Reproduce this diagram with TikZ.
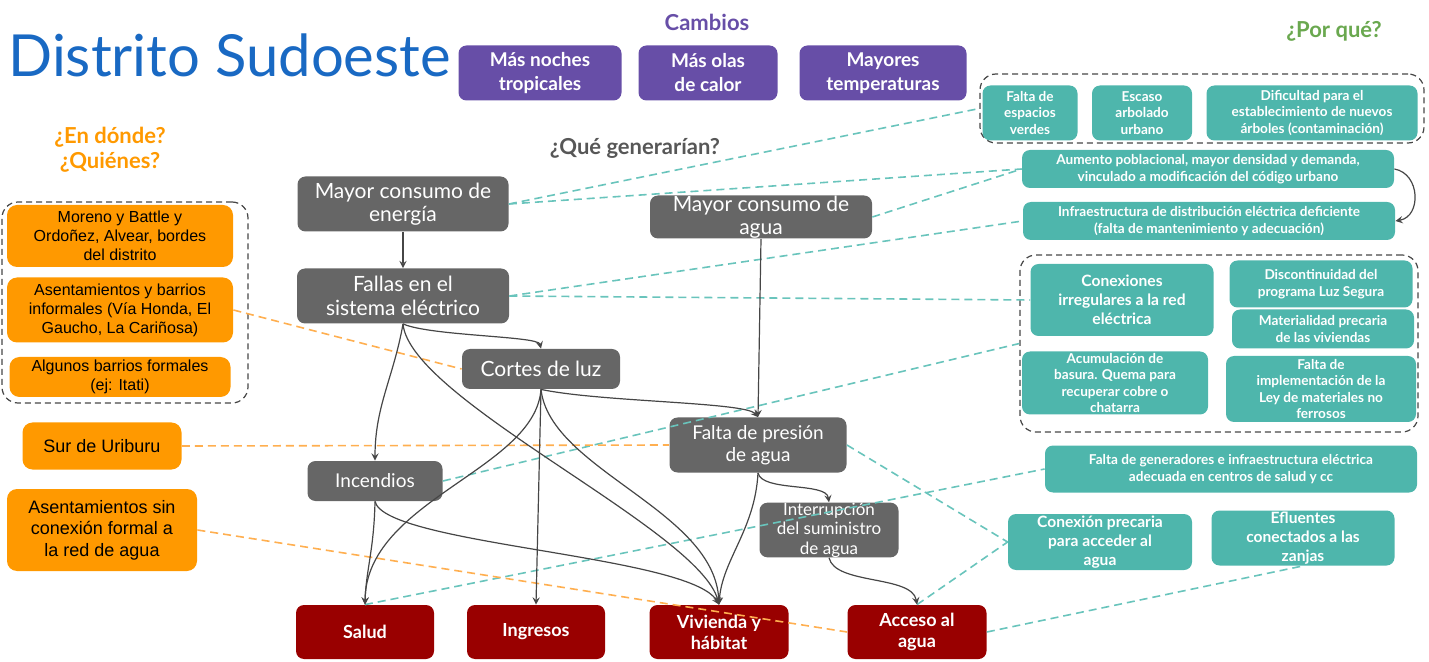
\documentclass[tikz,border=0pt]{standalone}
\usepackage{fontspec}
\setmainfont{Lato}
\newfontfamily\arialfont{Liberation Sans}
\usepackage{tikz}
\usetikzlibrary{shapes.geometric, arrows}
\definecolor{titleblue}{RGB}{25,105,195}
\definecolor{cambiopurple}{RGB}{103,78,167}
\definecolor{causeteal}{RGB}{78,182,172}
\definecolor{linkteal}{RGB}{105,196,188}
\definecolor{effectgrey}{RGB}{102,102,102}
\definecolor{impactred}{RGB}{153,0,0}
\definecolor{placeorange}{RGB}{255,153,0}
\definecolor{linkorange}{RGB}{255,175,80}
\definecolor{whygreen}{RGB}{106,168,79}
\definecolor{arrowgrey}{RGB}{70,70,70}
\tikzstyle{heading} = [inner sep=0pt, align=center, font=\bfseries\fontsize{11}{12.5}\selectfont]
\tikzstyle{cambio} = [rectangle, rounded corners=4pt, fill=cambiopurple, text=white, align=center, inner sep=0pt, font=\bfseries\fontsize{9.5}{12}\selectfont]
\tikzstyle{cause} = [rectangle, rounded corners=4pt, fill=causeteal, text=white, align=center, inner sep=0pt, font=\bfseries\fontsize{6.8}{8.3}\selectfont]
\tikzstyle{causebig} = [cause, font=\bfseries\fontsize{7.8}{9.6}\selectfont]
\tikzstyle{effect} = [rectangle, rounded corners=4pt, fill=effectgrey, text=white, align=center, inner sep=0pt, font=\fontsize{10.5}{11.8}\selectfont]
\tikzstyle{impact} = [rectangle, rounded corners=4pt, fill=impactred, text=white, align=center, inner sep=0pt, font=\bfseries\fontsize{9}{10.5}\selectfont]
\tikzstyle{place} = [rectangle, rounded corners=5pt, fill=placeorange, text=black, align=center, inner sep=0pt, font=\arialfont\fontsize{8}{9.5}\selectfont]
\tikzstyle{groupbox} = [rectangle, rounded corners=8pt, draw=arrowgrey, line width=0.6pt, dash pattern=on 3pt off 2pt]
\tikzstyle{arrow} = [arrowgrey, line width=0.6pt, ->, >=stealth]
\tikzstyle{tealdash} = [linkteal, line width=0.8pt, dash pattern=on 4pt off 2.5pt]
\tikzstyle{orangedash} = [linkorange, line width=0.8pt, dash pattern=on 4pt off 2.5pt]

\begin{document}
\begin{tikzpicture}[x=0.5pt, y=0.5pt]
    \useasboundingbox (0,0) rectangle (1429,-662);

    % titles
    \node (titulo) [anchor=west, inner sep=0pt, text=titleblue, font=\fontsize{29}{34}\selectfont] at (8,-55) {Distrito Sudoeste};
    \node (cambios) [heading, text=cambiopurple] at (707,-22) {Cambios};
    \node (quegen) [heading, text=effectgrey!85!black] at (635,-148) {¿Qué generarían?};
    \node (porque) [heading, text=whygreen] at (1334,-31) {¿Por qué?};
    \node (endonde) [heading, text=placeorange] at (110,-150) {¿En dónde?\\¿Quiénes?};

    % dashed groups
    \node (g1) [groupbox, minimum width=222pt, minimum height=34.5pt] at (1202,-108.5) {};
    \node (g2) [groupbox, minimum width=199pt, minimum height=88.5pt] at (1219,-343.5) {};
    \node (g3) [groupbox, minimum width=123pt, minimum height=100.5pt] at (125,-302.5) {};

    % cambios
    \node (cam1) [cambio, minimum width=81.5pt, minimum height=27.5pt] at (540,-73) {Más noches\\tropicales};
    \node (cam2) [cambio, minimum width=69.5pt, minimum height=27.5pt] at (708,-73) {Más olas\\de calor};
    \node (cam3) [cambio, minimum width=83.5pt, minimum height=27.5pt] at (883,-73) {Mayores\\temperaturas};

    % por que
    \node (verdes) [cause, minimum width=47.5pt, minimum height=27.5pt] at (1030,-113) {Falta de\\espacios\\verdes};
    \node (arbolado) [cause, minimum width=50pt, minimum height=27.5pt] at (1142,-113) {Escaso\\arbolado\\urbano};
    \node (arboles) [cause, minimum width=105.5pt, minimum height=27.5pt] at (1312,-113) {Dificultad para el\\establecimiento de nuevos\\árboles (contaminación)};
    \node (aumento) [cause, minimum width=186pt, minimum height=19pt] at (1208,-169) {Aumento poblacional, mayor densidad y demanda,\\vinculado a modificación del código urbano};
    \node (infra) [cause, minimum width=186pt, minimum height=19pt] at (1209,-221) {Infraestructura de distribución eléctrica deficiente\\(falta de mantenimiento y adecuación)};
    \node (conexiones) [causebig, minimum width=91.5pt, minimum height=36pt] at (1122,-300) {Conexiones\\irregulares a la red\\eléctrica};
    \node (luzsegura) [cause, minimum width=91.5pt, minimum height=23.5pt] at (1321,-284) {Discontinuidad del\\programa Luz Segura};
    \node (materialidad) [cause, minimum width=91pt, minimum height=19.5pt] at (1323,-329) {Materialidad precaria\\de las viviendas};
    \node (basura) [cause, minimum width=93pt, minimum height=31.5pt] at (1115,-383) {Acumulación de\\basura. Quema para\\recuperar cobre o\\chatarra};
    \node (ley) [cause, minimum width=95pt, minimum height=33pt] at (1321,-389) {Falta de\\implementación de la\\Ley de materiales no\\ferrosos};
    \node (generadores) [cause, minimum width=186pt, minimum height=23.5pt] at (1231,-469) {Falta de generadores e infraestructura eléctrica\\adecuada en centros de salud y cc};
    \node (precaria) [causebig, minimum width=92pt, minimum height=28pt] at (1100,-542) {Conexión precaria\\para acceder al\\agua};
    \node (efluentes) [causebig, minimum width=91.5pt, minimum height=27.5pt] at (1303,-538) {Efluentes\\conectados a las\\zanjas};

    % que generarian
    \node (energia) [effect, minimum width=105.5pt, minimum height=27.5pt] at (403,-204) {Mayor consumo de\\energía};
    \node (aguacons) [effect, minimum width=111pt, minimum height=21.5pt] at (761,-217) {Mayor consumo de\\agua};
    \node (fallas) [effect, minimum width=106pt, minimum height=27.5pt] at (403,-296) {Fallas en el\\sistema eléctrico};
    \node (cortes) [effect, minimum width=79pt, minimum height=20pt] at (541,-369) {Cortes de luz};
    \node (presion) [effect, minimum width=88.5pt, minimum height=27.5pt, font=\fontsize{9.5}{10.8}\selectfont] at (758,-445) {Falta de presión\\de agua};
    \node (incendios) [effect, minimum width=67.5pt, minimum height=20pt, font=\fontsize{9.5}{10.8}\selectfont] at (375,-481) {Incendios};
    \node (interrupcion) [effect, minimum width=69.5pt, minimum height=27pt, font=\fontsize{8.5}{9.8}\selectfont] at (829,-530) {Interrupción\\del suministro\\de agua};

    % impactos
    \node (salud) [impact, minimum width=69pt, minimum height=27pt] at (365,-632) {Salud};
    \node (ingresos) [impact, minimum width=69pt, minimum height=27pt] at (536,-632) {Ingresos};
    \node (vivienda) [impact, minimum width=69.5pt, minimum height=27pt] at (719,-632) {Vivienda y\\hábitat};
    \node (acceso) [impact, minimum width=69.5pt, minimum height=27pt] at (917,-632) {Acceso al\\agua};

    % en donde
    \node (moreno) [place, minimum width=113pt, minimum height=31pt] at (120,-236) {Moreno y Battle y\\Ordoñez, Alvear, bordes\\del distrito};
    \node (informales) [place, minimum width=113pt, minimum height=32.5pt] at (120,-310) {Asentamientos y barrios\\informales (Vía Honda, El\\Gaucho, La Cariñosa)};
    \node (formales) [place, minimum width=110.5pt, minimum height=20pt] at (120,-377) {Algunos barrios formales\\(ej: Itati)};
    \node (uriburu) [place, minimum width=79.5pt, minimum height=23.5pt, font=\arialfont\fontsize{9}{10.8}\selectfont] at (102,-446) {Sur de Uriburu};
    \node (sinconexion) [place, minimum width=95pt, minimum height=41pt, font=\arialfont\fontsize{9}{10.8}\selectfont] at (102,-530) {Asentamientos sin\\conexión formal a\\la red de agua};

    % dashed links
    \draw [tealdash] (energia.east) -- (g1.west);
    \draw [tealdash] (energia.east) -- (aumento.west);
    \draw [tealdash] (aguacons.east) -- (aumento.west);
    \draw [tealdash] (fallas.east) -- (infra.west);
    \draw [tealdash] (fallas.east) -- (conexiones.west);
    \draw [tealdash] (incendios.east) -- (g2.west);
    \draw [tealdash] (presion.east) -- (precaria.west);
    \draw [tealdash] (acceso.north) -- (precaria.west);
    \draw [tealdash] (salud.north) -- (generadores.west);
    \draw [tealdash] (acceso.east) -- (efluentes.south);
    \draw [orangedash] (informales.east) -- (cortes.west);
    \draw [orangedash] (uriburu.east) -- (presion.west);
    \draw [orangedash] (sinconexion.east) -- (acceso.west);

    % arrows
    \draw [arrow] (aumento.east) to[out=-10, in=10, looseness=1.3] (infra.east);
    \draw [arrow] (energia) -- (fallas);
    \draw [arrow] (fallas.south) .. controls (430,-336) and (538,-336) .. (cortes.north);
    \draw [arrow] (fallas.south) to[out=-100, in=90] (incendios.north);
    \draw [arrow] (fallas.south) .. controls (410,-400) and (700,-530) .. (vivienda.north);
    \draw [arrow] (cortes.south) .. controls (535,-470) and (366,-500) .. (salud.north);
    \draw [arrow] (cortes.south) -- (ingresos.north);
    \draw [arrow] (cortes.south) .. controls (550,-470) and (715,-510) .. (vivienda.north);
    \draw [arrow] (cortes.south) .. controls (600,-402) and (745,-402) .. (presion.north);
    \draw [arrow] (aguacons.south) -- (presion.north);
    \draw [arrow] (presion.south) .. controls (755,-530) and (722,-560) .. (vivienda.north);
    \draw [arrow] (presion.south) .. controls (762,-492) and (826,-482) .. (interrupcion.north);
    \draw [arrow] (interrupcion.south) .. controls (835,-585) and (912,-575) .. (acceso.north);
    \draw [arrow] (incendios.south) .. controls (374,-550) and (366,-570) .. (salud.north);
    \draw [arrow] (incendios.south) .. controls (385,-545) and (690,-555) .. (vivienda.north);
\end{tikzpicture}
\end{document}
